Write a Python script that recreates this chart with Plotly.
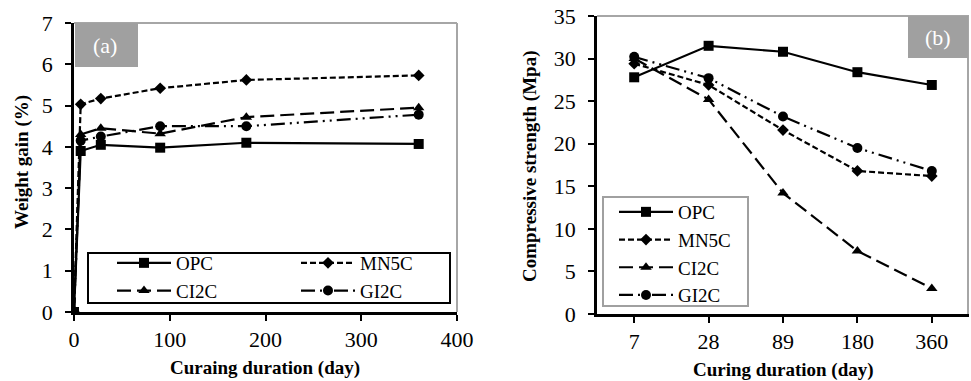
import plotly.graph_objects as go

# ---- data: panel (a) weight gain ----
days_a = [0, 7, 28, 90, 180, 360]
opc_a = [0, 3.9, 4.05, 3.98, 4.1, 4.07]
mn5c_a = [0, 5.03, 5.17, 5.42, 5.62, 5.73]
ci2c_a = [0, 4.3, 4.45, 4.32, 4.72, 4.95]
gi2c_a = [0, 4.15, 4.25, 4.5, 4.5, 4.78]

# ---- data: panel (b) compressive strength ----
days_b = ["7", "28", "89", "180", "360"]
opc_b = [27.8, 31.5, 30.8, 28.4, 26.9]
mn5c_b = [29.4, 26.9, 21.6, 16.8, 16.2]
ci2c_b = [30.0, 25.2, 14.2, 7.4, 3.0]
gi2c_b = [30.2, 27.7, 23.2, 19.5, 16.8]

names = ["OPC", "MN5C", "CI2C", "GI2C"]
symbols = ["square", "diamond", "triangle-up", "circle"]
dashes = ["solid", "6px,3px", "14px,6px", "14px,5px,2px,5px,2px,5px"]
msizes = [10, 9, 10, 10]
legend_a = ["legend", "legend3", "legend", "legend3"]

FONT = "Liberation Serif, Times New Roman, serif"
W, H = 971, 381

fig = go.Figure()
for i, ys in enumerate([opc_a, mn5c_a, ci2c_a, gi2c_a]):
    fig.add_trace(go.Scatter(
        x=days_a, y=ys, name=names[i], mode="lines+markers",
        line=dict(color="black", width=2.2, dash=dashes[i]),
        marker=dict(symbol=symbols[i], size=msizes[i], color="black"),
        xaxis="x", yaxis="y", legend=legend_a[i]))
for i, ys in enumerate([opc_b, mn5c_b, ci2c_b, gi2c_b]):
    fig.add_trace(go.Scatter(
        x=days_b, y=ys, name=names[i], mode="lines+markers",
        line=dict(color="black", width=2.2, dash=dashes[i]),
        marker=dict(symbol=symbols[i], size=msizes[i], color="black"),
        xaxis="x2", yaxis="y2", legend="legend2"))

def px_x(p):
    return p / W

def px_y(p):
    return (H - p) / H

ax_common = dict(showgrid=False, zeroline=False, showline=True, linecolor="black",
                 linewidth=2.5, ticks="outside", ticklen=6, tickwidth=2, tickcolor="black",
                 tickfont=dict(family=FONT, size=22, color="black"))

leg_common = dict(xanchor="left", yanchor="top", orientation="v",
                  bgcolor="rgba(0,0,0,0)", borderwidth=0,
                  font=dict(family=FONT, size=19, color="black"),
                  itemwidth=54, tracegroupgap=0)

fig.update_layout(
    width=W, height=H, margin=dict(l=0, r=0, t=0, b=0, autoexpand=False),
    paper_bgcolor="white", plot_bgcolor="white",
    font=dict(family=FONT, color="black"),
    xaxis=dict(domain=[px_x(74), px_x(457)], range=[0, 400], dtick=100,
               anchor="y", **ax_common),
    yaxis=dict(domain=[px_y(312), px_y(23)], range=[0, 7], dtick=1,
               anchor="x", ticklabelstandoff=8, **ax_common),
    xaxis2=dict(domain=[px_x(597), px_x(969)], type="category", range=[-0.5, 4.5],
                anchor="y2", **ax_common),
    yaxis2=dict(domain=[px_y(314), px_y(16)], range=[0, 35], dtick=5,
                anchor="x2", ticklabelstandoff=8, **ax_common),
    legend=dict(x=px_x(112), y=px_y(244), **leg_common),
    legend3=dict(x=px_x(296), y=px_y(244), **leg_common),
    legend2=dict(x=px_x(614), y=px_y(193), **leg_common),
    showlegend=True,
)

shapes = [
    # gray top/right borders
    dict(type="line", xref="paper", yref="paper", x0=px_x(74), x1=px_x(457),
         y0=px_y(23), y1=px_y(23), line=dict(color="#a6a6a6", width=2)),
    dict(type="line", xref="paper", yref="paper", x0=px_x(457), x1=px_x(457),
         y0=px_y(23), y1=px_y(312), line=dict(color="#a6a6a6", width=2)),
    dict(type="line", xref="paper", yref="paper", x0=px_x(597), x1=px_x(969),
         y0=px_y(16), y1=px_y(16), line=dict(color="#a6a6a6", width=2)),
    dict(type="line", xref="paper", yref="paper", x0=px_x(968), x1=px_x(968),
         y0=px_y(16), y1=px_y(314), line=dict(color="#a6a6a6", width=2)),
    # label boxes
    dict(type="rect", xref="paper", yref="paper", x0=px_x(75), x1=px_x(138),
         y0=px_y(67), y1=px_y(23), fillcolor="#a0a0a0", line=dict(width=0)),
    dict(type="rect", xref="paper", yref="paper", x0=px_x(908), x1=px_x(968),
         y0=px_y(58), y1=px_y(16), fillcolor="#a0a0a0", line=dict(width=0)),
    # legend frames
    dict(type="rect", xref="paper", yref="paper", x0=px_x(88), x1=px_x(450),
         y0=px_y(303), y1=px_y(253), fillcolor="white", layer="above",
         line=dict(color="black", width=2)),
    dict(type="rect", xref="paper", yref="paper", x0=px_x(603), x1=px_x(748),
         y0=px_y(306), y1=px_y(197), fillcolor="white", layer="above",
         line=dict(color="#a0a0a0", width=2)),
]
fig.update_layout(shapes=shapes)

def ann(text, x, y, size, color="black", angle=0):
    return dict(text=text, xref="paper", yref="paper", x=px_x(x), y=px_y(y),
                xanchor="center", yanchor="middle", textangle=angle,
                showarrow=False, font=dict(family=FONT, size=size, color=color))

annotations = [
    ann("(a)", 105, 46, 22, "white"),
    ann("(b)", 938, 38, 22, "white"),
    ann("<b>Weight gain (%)</b>", 22, 162, 19, angle=-90),
    ann("<b>Curaing duration (day)</b>", 265, 368, 19),
    ann("<b>Compressive strength (Mpa)</b>", 530, 166, 19, angle=-90),
    ann("<b>Curing duration (day)</b>", 783, 370, 19),
]
fig.update_layout(annotations=annotations)

fig.write_html("out.html")
